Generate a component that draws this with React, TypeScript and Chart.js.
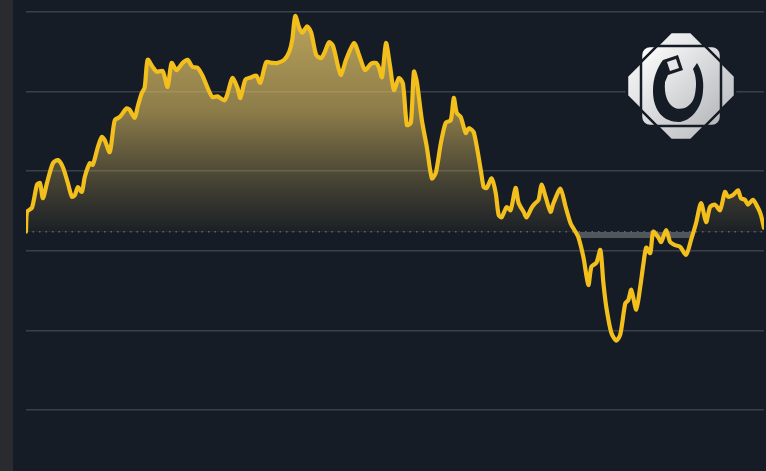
import React, { useEffect, useRef } from "react";
import { Chart, registerables } from "chart.js";

Chart.register(...registerables);

// Minutes since session open
const minutes = [
  0, 1, 6, 11, 14, 17, 21, 27, 32, 37, 42, 46, 49, 52, 56, 59, 64, 67, 72, 76,
  79, 84, 89, 94, 101, 104, 109, 112, 116, 119, 122, 127, 131, 137, 142, 146, 151, 157, 162, 167,
  172, 177, 182, 187, 192, 199, 202, 207, 212, 215, 220, 226, 231, 235, 241, 247, 252, 259, 264, 267,
  270, 274, 277, 282, 286, 291, 296, 299, 304, 308, 313, 316, 321, 329, 334, 340, 346, 351, 354, 357,
  361, 365, 369, 374, 378, 382, 386, 389, 392, 397, 402, 407, 411, 416, 421, 426, 429, 432, 436, 441,
  444, 449, 456, 459, 462, 467, 471, 474, 477, 482, 486, 491, 494, 499, 502, 507, 510, 514, 517, 521,
  526, 529, 536, 541, 546, 551, 554, 559, 564, 567, 572, 576, 579, 582, 587, 592, 596, 601, 604, 607,
  612, 616, 619, 622, 626, 629, 634, 637, 642, 646, 651, 656, 662, 667, 672, 677, 682, 686, 691, 696,
  701, 704, 709, 714, 717, 721, 724, 729, 734, 737, 740,
];

// Price at each minute
const prices = [
  92.4, 94.9, 95.4, 98.3, 98.5, 96.6, 98.5, 101.0, 101.4, 100.5, 98.5, 96.8, 97.0, 98.0, 97.4, 99.3, 101.0, 100.8, 103.0, 104.3,
  103.9, 102.4, 106.4, 106.8, 107.9, 107.7, 106.7, 108.1, 109.8, 110.5, 114.0, 113.1, 112.5, 112.6, 110.6, 113.6, 112.7, 113.6, 114.0, 113.1,
  113.0, 112.0, 110.5, 109.3, 109.4, 108.9, 109.7, 111.7, 110.5, 109.2, 111.5, 111.8, 112.0, 111.1, 113.7, 113.6, 113.6, 114.0, 115.0, 116.5,
  119.5, 118.0, 117.4, 118.2, 117.4, 114.6, 114.2, 114.8, 116.2, 115.7, 113.1, 112.1, 114.0, 116.1, 114.6, 112.7, 113.5, 113.6, 113.0, 111.8,
  116.1, 113.3, 110.2, 111.7, 111.0, 105.8, 106.1, 112.5, 111.2, 106.4, 103.0, 99.1, 99.8, 103.5, 106.1, 106.4, 109.2, 107.3, 106.8, 104.8,
  105.4, 104.9, 100.2, 98.0, 97.9, 99.1, 97.3, 94.5, 94.2, 95.5, 95.1, 97.9, 96.0, 94.9, 94.2, 95.4, 95.9, 96.4, 98.3, 96.8,
  94.9, 96.0, 97.8, 95.6, 93.5, 92.4, 91.7, 89.2, 85.7, 88.0, 88.5, 90.1, 86.0, 82.9, 79.7, 78.7, 79.5, 83.4, 83.8, 85.1,
  82.6, 85.5, 88.2, 90.4, 89.7, 92.4, 91.7, 91.1, 92.6, 91.1, 90.7, 90.5, 89.5, 91.4, 93.5, 96.0, 93.6, 95.5, 95.8, 95.1,
  97.4, 96.8, 97.0, 97.6, 96.6, 96.4, 95.8, 96.4, 95.4, 94.5, 92.9,
];

const previousClose = 92.4;
const axisMin = 70;
const axisMax = 120;
const gridStep = 10;
const sessionLength = 740;

const BG = "#161c25";
const LINE = "#f3bf1c";

export default function App() {
  const ref = useRef<HTMLCanvasElement>(null);

  useEffect(() => {
    document.body.style.margin = "0";
    const canvas = ref.current;
    if (!canvas) return;
    const points = minutes.map((m, i) => ({ x: m, y: prices[i] }));
    const baseline = [
      { x: minutes[0], y: previousClose },
      { x: minutes[minutes.length - 1], y: previousClose },
    ];
    const chart = new Chart(canvas, {
      type: "line",
      data: {
        datasets: [
          {
            data: points,
            borderColor: LINE,
            borderWidth: 4.2,
            pointRadius: 0,
            tension: 0.25,
            borderJoinStyle: "round",
            borderCapStyle: "round",
            fill: false,
          } as any,
          {
            data: baseline,
            borderColor: "#5f6670",
            borderWidth: 1.5,
            borderDash: [1.5, 5],
            pointRadius: 0,
            fill: false,
          },
        ],
      },
      options: {
        animation: false,
        responsive: false,
        layout: { padding: { left: 26, right: 0, top: 12, bottom: 61 } },
        plugins: {
          legend: { display: false },
          tooltip: { enabled: false },
          filler: { propagate: false, drawTime: "beforeDatasetsDraw" },
        } as any,
        scales: {
          x: { type: "linear", min: 0, max: sessionLength, display: false },
          y: {
            min: axisMin,
            max: axisMax,
            ticks: { display: false, stepSize: gridStep },
            grid: { color: "#39404a", lineWidth: 1.6, drawTicks: false },
            border: { display: false },
          },
        },
      },
    });

    const { ctx, chartArea } = chart;
    const yScale = chart.scales.y;
    const base = yScale.getPixelForValue(previousClose);
    const gAbove = ctx.createLinearGradient(0, chartArea.top, 0, base);
    gAbove.addColorStop(0, "rgba(226,196,104,0.82)");
    gAbove.addColorStop(0.45, "rgba(214,184,96,0.62)");
    gAbove.addColorStop(0.8, "rgba(200,172,90,0.24)");
    gAbove.addColorStop(1, "rgba(200,172,90,0.03)");
    const gBelow = ctx.createLinearGradient(0, base, 0, base + 8);
    gBelow.addColorStop(0, "rgba(140,144,150,0.5)");
    gBelow.addColorStop(0.75, "rgba(140,144,150,0.5)");
    gBelow.addColorStop(0.76, "rgba(0,0,0,0)");
    gBelow.addColorStop(1, "rgba(0,0,0,0)");
    (chart.data.datasets[0] as any).fill = {
      target: { value: previousClose },
      above: gAbove,
      below: gBelow,
    };
    chart.update("none");

    return () => chart.destroy();
  }, []);

  return (
    <div style={{ position: "fixed", left: 0, top: 0, width: 766, height: 471, background: BG, overflow: "hidden" }}>
      <div style={{ position: "absolute", left: 0, top: 0, width: 13, height: 471, background: "#2a2b2e" }} />
      <canvas ref={ref} width={766} height={471} style={{ position: "absolute", left: 0, top: 0 }} />
      <svg width={766} height={471} style={{ position: "absolute", left: 0, top: 0, pointerEvents: "none" }}>
        <defs>
          <linearGradient id="logoG" x1="0" y1="0" x2="1" y2="1">
            <stop offset="0" stopColor="#ffffff" />
            <stop offset="1" stopColor="#b4b6ba" />
          </linearGradient>
          <clipPath id="sqClip">
            <rect x={-40} y={-40} width={80} height={80} rx={9} />
          </clipPath>
        </defs>
        <g transform="translate(681 86)">
          <polygon
            points="-10,-54 10,-54 54,-10 54,10 10,54 -10,54 -54,10 -54,-10"
            fill="url(#logoG)"
            stroke={BG}
            strokeWidth={2.5}
            strokeLinejoin="round"
          />
          <rect x={-40} y={-40} width={80} height={80} rx={9} fill="url(#logoG)" stroke={BG} strokeWidth={2.5} />
          <g clipPath="url(#sqClip)">
            <polygon
              points="-10,-54 10,-54 54,-10 54,10 10,54 -10,54 -54,10 -54,-10"
              fill="none"
              stroke={BG}
              strokeWidth={2.5}
            />
          </g>
          <path
            d="M -18,-26 L -3,-31 L 2,-16 L -13,-11 L -16,-4 C -17,8 -14,18 -6,22 C 2,25 12,20 14,8 C 16,-2 15,-10 12,-17 L 16,-23 C 21,-15 23,-5 22,5 C 21,22 10,35 -2,36 C -18,36 -28,24 -28,5 C -28,-8 -24,-18 -18,-26 Z"
            fill={BG}
          />
          <polygon points="-14,-24 -5,-27 -2,-18 -11,-15" fill="#e6e6e8" />
        </g>
      </svg>
    </div>
  );
}
